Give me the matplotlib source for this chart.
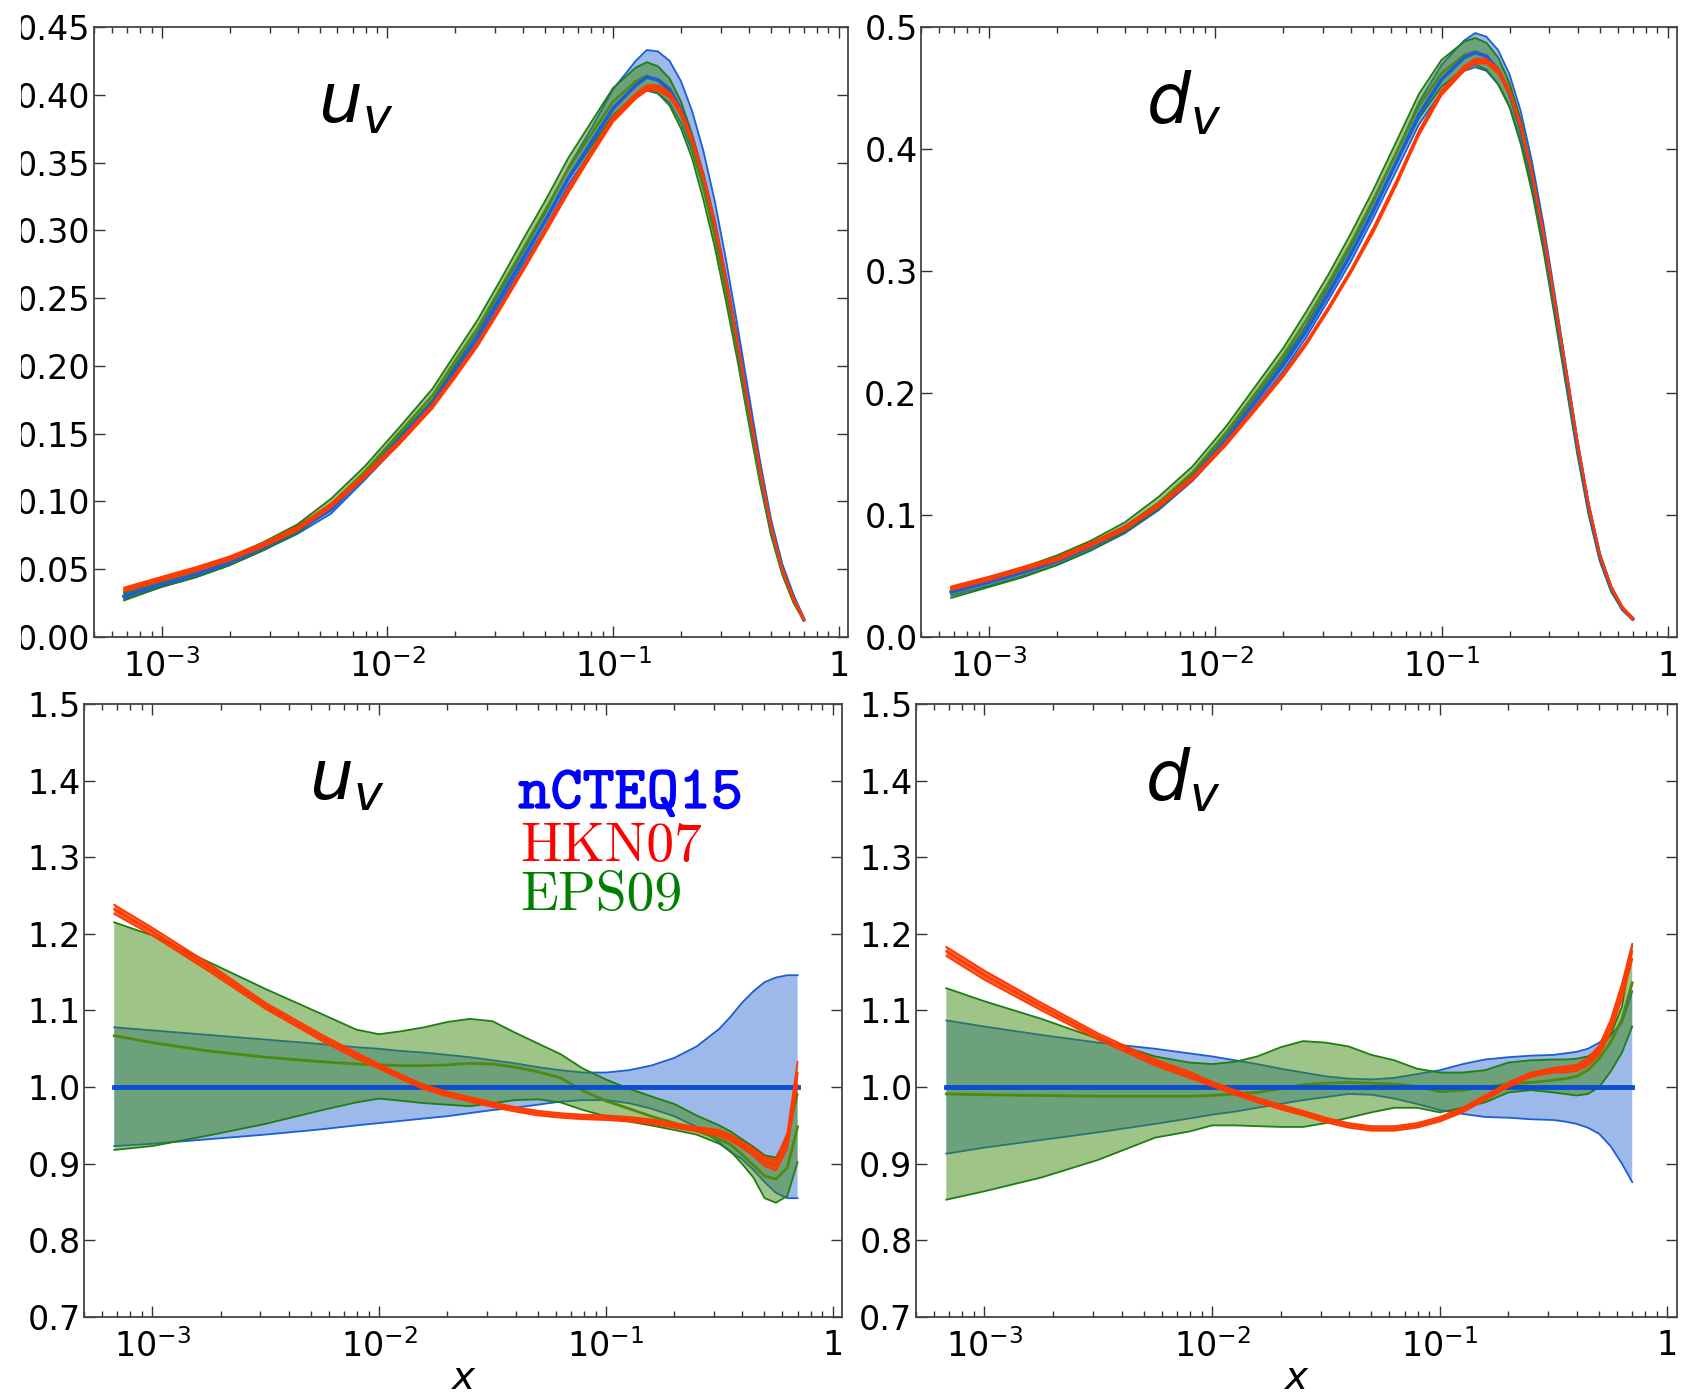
import numpy as np
import matplotlib
matplotlib.use('Agg')
import matplotlib.pyplot as plt
import matplotlib.ticker as ticker
import matplotlib.patheffects as pe
from matplotlib.patches import Rectangle

# ---- x grids ----
x_top = [6.8e-4, 1.0e-3, 1.41e-3, 2.0e-3, 2.82e-3, 3.98e-3, 5.62e-3, 7.94e-3, 0.0112, 0.0158, 0.0200,
         0.0251, 0.0316, 0.0398, 0.0501, 0.0631, 0.0794, 0.100, 0.126, 0.141, 0.158, 0.178, 0.200,
         0.224, 0.251, 0.282, 0.316, 0.355, 0.398, 0.447, 0.501, 0.562, 0.631, 0.700]
x_ratio = [6.8e-4, 1.0e-3, 1.78e-3, 3.16e-3, 5.62e-3, 7.94e-3, 0.0100, 0.0126, 0.0158, 0.0200,
           0.0251, 0.0316, 0.0398, 0.0501, 0.0631, 0.0794, 0.100, 0.126, 0.158, 0.200, 0.251,
           0.316, 0.355, 0.398, 0.447, 0.501, 0.562, 0.631, 0.700]

# ---- top: u_v distributions ----
uv_ncteq = [0.030, 0.039, 0.046, 0.055, 0.066, 0.079, 0.094, 0.119, 0.145, 0.172, 0.197, 0.221, 0.250, 0.279,
            0.307, 0.338, 0.364, 0.390, 0.407, 0.413, 0.411, 0.404, 0.389, 0.368, 0.340, 0.305, 0.264,
            0.219, 0.171, 0.124, 0.082, 0.051, 0.029, 0.013]
uv_ncteq_up = [0.002, 0.002, 0.002, 0.002, 0.002, 0.003, 0.003, 0.003, 0.003, 0.003, 0.004, 0.004, 0.005, 0.005,
               0.006, 0.008, 0.010, 0.014, 0.018, 0.020, 0.021, 0.021, 0.021, 0.020, 0.019, 0.017, 0.015,
               0.012, 0.010, 0.007, 0.005, 0.003, 0.002, 0.001]
uv_ncteq_dn = [0.002, 0.002, 0.002, 0.002, 0.002, 0.003, 0.003, 0.003, 0.003, 0.003, 0.004, 0.004, 0.004, 0.004,
               0.005, 0.005, 0.006, 0.007, 0.008, 0.010, 0.010, 0.010, 0.010, 0.010, 0.009, 0.008, 0.007,
               0.006, 0.005, 0.004, 0.003, 0.002, 0.002, 0.001]
uv_eps = [0.030, 0.040, 0.047, 0.056, 0.067, 0.080, 0.098, 0.122, 0.150, 0.178, 0.204, 0.228, 0.257, 0.286,
          0.315, 0.345, 0.370, 0.395, 0.410, 0.414, 0.411, 0.402, 0.385, 0.362, 0.332, 0.296, 0.255,
          0.211, 0.164, 0.118, 0.078, 0.048, 0.027, 0.013]
uv_eps_err = [0.003, 0.003, 0.003, 0.003, 0.003, 0.003, 0.004, 0.004, 0.004, 0.005, 0.005, 0.006, 0.006, 0.007,
              0.007, 0.008, 0.009, 0.010, 0.010, 0.010, 0.010, 0.010, 0.010, 0.009, 0.009, 0.008, 0.007,
              0.006, 0.005, 0.004, 0.003, 0.002, 0.002, 0.001]
uv_hkn = [0.035, 0.043, 0.050, 0.058, 0.068, 0.080, 0.097, 0.119, 0.143, 0.170, 0.193, 0.216, 0.243, 0.271,
          0.300, 0.329, 0.356, 0.382, 0.399, 0.405, 0.405, 0.400, 0.387, 0.367, 0.340, 0.305, 0.264,
          0.219, 0.171, 0.124, 0.082, 0.050, 0.028, 0.013]
uv_hkn_err = [0.0015, 0.0015, 0.0015, 0.0015, 0.0015, 0.0015, 0.0015, 0.0015, 0.0015, 0.0015, 0.0015, 0.0015,
              0.0015, 0.0015, 0.002, 0.002, 0.002, 0.002, 0.002, 0.002, 0.002, 0.002, 0.002, 0.002, 0.002,
              0.002, 0.002, 0.0015, 0.0015, 0.0015, 0.001, 0.001, 0.001, 0.001]

# ---- top: d_v distributions ----
dv_ncteq = [0.037, 0.045, 0.053, 0.062, 0.074, 0.088, 0.107, 0.131, 0.162, 0.198, 0.223, 0.250, 0.281, 0.314,
            0.350, 0.389, 0.428, 0.457, 0.475, 0.479, 0.476, 0.465, 0.446, 0.417, 0.378, 0.329, 0.274,
            0.216, 0.158, 0.106, 0.066, 0.040, 0.023, 0.015]
dv_ncteq_up = [0.003, 0.003, 0.003, 0.003, 0.003, 0.003, 0.003, 0.003, 0.004, 0.004, 0.005, 0.005, 0.006, 0.006,
               0.007, 0.008, 0.010, 0.012, 0.014, 0.016, 0.016, 0.016, 0.015, 0.014, 0.012, 0.010, 0.008,
               0.006, 0.005, 0.004, 0.003, 0.002, 0.001, 0.001]
dv_ncteq_dn = [0.003, 0.003, 0.003, 0.003, 0.003, 0.003, 0.003, 0.003, 0.004, 0.004, 0.005, 0.005, 0.005, 0.006,
               0.006, 0.007, 0.008, 0.010, 0.011, 0.012, 0.012, 0.012, 0.011, 0.010, 0.009, 0.008, 0.006,
               0.005, 0.004, 0.003, 0.002, 0.002, 0.001, 0.001]
dv_eps = [0.036, 0.045, 0.053, 0.063, 0.075, 0.090, 0.110, 0.135, 0.168, 0.205, 0.231, 0.259, 0.290, 0.323,
          0.359, 0.397, 0.435, 0.462, 0.477, 0.480, 0.476, 0.464, 0.444, 0.414, 0.374, 0.325, 0.270,
          0.212, 0.155, 0.104, 0.065, 0.039, 0.023, 0.015]
dv_eps_err = [0.004, 0.004, 0.004, 0.004, 0.004, 0.004, 0.005, 0.005, 0.005, 0.006, 0.006, 0.007, 0.007, 0.008,
              0.008, 0.009, 0.010, 0.011, 0.011, 0.011, 0.011, 0.011, 0.010, 0.010, 0.009, 0.008, 0.007,
              0.006, 0.005, 0.004, 0.003, 0.002, 0.001, 0.001]
dv_hkn = [0.040, 0.048, 0.056, 0.064, 0.076, 0.089, 0.108, 0.130, 0.159, 0.192, 0.215, 0.240, 0.269, 0.300,
          0.334, 0.372, 0.413, 0.446, 0.466, 0.472, 0.472, 0.464, 0.447, 0.419, 0.380, 0.331, 0.276,
          0.218, 0.160, 0.108, 0.067, 0.041, 0.024, 0.015]
dv_hkn_err = [0.0015, 0.0015, 0.0015, 0.0015, 0.0015, 0.0015, 0.0015, 0.0015, 0.0015, 0.0015, 0.0015, 0.0015,
              0.0015, 0.0015, 0.002, 0.002, 0.002, 0.002, 0.002, 0.002, 0.002, 0.002, 0.002, 0.002, 0.002,
              0.002, 0.002, 0.0015, 0.0015, 0.0015, 0.001, 0.001, 0.001, 0.001]

# ---- bottom: ratios to nCTEQ15 central, u_v ----
ruv_ncteq_hi = [1.078, 1.074, 1.068, 1.062, 1.056, 1.052, 1.050, 1.047, 1.045, 1.042, 1.039, 1.035, 1.031, 1.026,
                1.022, 1.019, 1.019, 1.022, 1.028, 1.038, 1.053, 1.076, 1.092, 1.110, 1.125, 1.137, 1.143,
                1.146, 1.146]
ruv_ncteq_lo = [0.923, 0.926, 0.932, 0.938, 0.945, 0.950, 0.953, 0.956, 0.959, 0.962, 0.966, 0.970, 0.973, 0.977,
                0.981, 0.983, 0.983, 0.979, 0.972, 0.962, 0.948, 0.928, 0.915, 0.906, 0.892, 0.876, 0.862,
                0.855, 0.855]
ruv_eps_hi = [1.215, 1.198, 1.163, 1.128, 1.095, 1.075, 1.069, 1.073, 1.078, 1.085, 1.089, 1.086, 1.071, 1.057,
              1.043, 1.024, 1.010, 0.998, 0.988, 0.978, 0.963, 0.950, 0.942, 0.932, 0.922, 0.911, 0.908,
              0.935, 0.991]
ruv_eps_mid = [1.067, 1.058, 1.047, 1.039, 1.033, 1.030, 1.029, 1.028, 1.028, 1.029, 1.031, 1.030, 1.026, 1.020,
               1.012, 0.995, 0.982, 0.972, 0.962, 0.953, 0.943, 0.932, 0.925, 0.912, 0.898, 0.884, 0.880,
               0.895, 0.948]
ruv_eps_lo = [0.918, 0.923, 0.937, 0.952, 0.970, 0.980, 0.985, 0.982, 0.979, 0.977, 0.975, 0.979, 0.983, 0.984,
              0.980, 0.970, 0.962, 0.955, 0.950, 0.944, 0.938, 0.926, 0.916, 0.900, 0.882, 0.855, 0.849,
              0.858, 0.902]
ruv_hkn = [1.232, 1.203, 1.156, 1.106, 1.064, 1.041, 1.027, 1.013, 1.000, 0.991, 0.984, 0.977, 0.971, 0.966,
           0.963, 0.961, 0.960, 0.958, 0.955, 0.950, 0.945, 0.940, 0.934, 0.925, 0.915, 0.903, 0.898,
           0.930, 1.018]
ruv_hkn_err = [0.006, 0.005, 0.005, 0.004, 0.004, 0.004, 0.003, 0.003, 0.003, 0.003, 0.003, 0.003, 0.003, 0.003,
               0.003, 0.003, 0.003, 0.003, 0.003, 0.003, 0.003, 0.004, 0.004, 0.004, 0.005, 0.006, 0.007,
               0.010, 0.015]

# ---- bottom: ratios to nCTEQ15 central, d_v ----
rdv_ncteq_hi = [1.087, 1.079, 1.068, 1.058, 1.050, 1.044, 1.040, 1.035, 1.030, 1.024, 1.019, 1.014, 1.011, 1.010,
                1.012, 1.017, 1.022, 1.030, 1.036, 1.039, 1.041, 1.042, 1.044, 1.046, 1.050, 1.058, 1.068,
                1.084, 1.125]
rdv_ncteq_lo = [0.913, 0.921, 0.931, 0.941, 0.952, 0.959, 0.964, 0.968, 0.973, 0.978, 0.983, 0.987, 0.991, 0.990,
                0.985, 0.978, 0.970, 0.965, 0.961, 0.960, 0.958, 0.957, 0.955, 0.952, 0.947, 0.939, 0.923,
                0.900, 0.876]
rdv_eps_hi = [1.129, 1.112, 1.089, 1.063, 1.040, 1.032, 1.030, 1.033, 1.040, 1.052, 1.060, 1.058, 1.053, 1.042,
              1.035, 1.024, 1.019, 1.019, 1.022, 1.032, 1.035, 1.036, 1.036, 1.037, 1.040, 1.050, 1.068,
              1.105, 1.185]
rdv_eps_mid = [0.991, 0.990, 0.989, 0.988, 0.988, 0.988, 0.989, 0.991, 0.993, 0.998, 1.003, 1.005, 1.006, 1.005,
               1.004, 1.001, 0.994, 0.996, 1.000, 1.004, 1.006, 1.009, 1.011, 1.014, 1.022, 1.037, 1.058,
               1.089, 1.136]
rdv_eps_lo = [0.853, 0.864, 0.882, 0.905, 0.934, 0.942, 0.950, 0.950, 0.949, 0.948, 0.948, 0.953, 0.960, 0.967,
              0.973, 0.973, 0.967, 0.973, 0.980, 0.993, 0.996, 0.993, 0.991, 0.989, 0.991, 1.000, 1.020,
              1.045, 1.079]
rdv_hkn = [1.177, 1.146, 1.105, 1.066, 1.032, 1.016, 1.004, 0.993, 0.983, 0.974, 0.966, 0.957, 0.950, 0.946,
           0.946, 0.950, 0.958, 0.970, 0.986, 1.003, 1.016, 1.022, 1.023, 1.025, 1.033, 1.048, 1.079,
           1.125, 1.177]
rdv_hkn_err = [0.006, 0.006, 0.005, 0.004, 0.004, 0.004, 0.003, 0.003, 0.003, 0.003, 0.003, 0.003, 0.003, 0.003,
               0.003, 0.003, 0.003, 0.003, 0.003, 0.003, 0.003, 0.003, 0.004, 0.004, 0.005, 0.006, 0.008,
               0.010, 0.010]

labels = ['nCTEQ15', 'HKN07', 'EPS09']

BLUE = '#1a5fd6'
BLUE_FILL = '#2565d2'
GREEN_EDGE = '#1f7d14'
GREEN_FILL = '#3f8a10'
GREEN_MID = '#4f8a0c'
RED = '#ff3a00'


def draw_band(ax, x, lo, hi, fill, edge, alpha, z, mid=None, midcolor=None, midlw=2.0):
    ax.fill_between(x, lo, hi, facecolor=fill, alpha=alpha, edgecolor='none', zorder=z)
    ax.plot(x, lo, color=edge, lw=1.3, zorder=z + 0.1)
    ax.plot(x, hi, color=edge, lw=1.3, zorder=z + 0.1)
    if mid is not None:
        ax.plot(x, mid, color=midcolor, lw=midlw, zorder=z + 0.2)


def xfmt(v, pos):
    e = int(round(np.log10(v)))
    if e == 0:
        return '1'
    return r'$10^{%d}$' % e


def style(ax, ylim, yticks, yfmt):
    ax.set_xscale('log')
    ax.set_xlim(5e-4, 1.1)
    ax.set_ylim(*ylim)
    ax.set_yticks(yticks)
    ax.yaxis.set_major_formatter(ticker.FormatStrFormatter(yfmt))
    ax.xaxis.set_major_locator(ticker.FixedLocator([1e-3, 1e-2, 1e-1, 1.0]))
    ax.xaxis.set_minor_locator(ticker.LogLocator(base=10, subs=np.arange(2, 10), numticks=20))
    ax.xaxis.set_major_formatter(ticker.FuncFormatter(xfmt))
    ax.xaxis.set_minor_formatter(ticker.NullFormatter())
    ax.tick_params(which='both', direction='in', top=True, right=True, labelsize=24, width=1.0, color='#333333')
    ax.tick_params(which='major', length=8)
    ax.tick_params(axis='x', which='major', pad=9)
    ax.tick_params(axis='y', which='major', pad=2.5)
    ax.tick_params(which='minor', length=4)
    for s in ax.spines.values():
        s.set_linewidth(1.3)
        s.set_color('#444444')


fig = plt.figure(figsize=(16.93, 13.97), dpi=100)
ax_tl = fig.add_axes([0.0555, 0.544, 0.4454, 0.4367])
ax_tr = fig.add_axes([0.544, 0.544, 0.4466, 0.4367])
ax_bl = fig.add_axes([0.0496, 0.0573, 0.4478, 0.4388])
ax_br = fig.add_axes([0.541, 0.0573, 0.4495, 0.4388])

# top panels
for ax, c, up, dn, eps, eps_err, hkn, hkn_err in [
        (ax_tl, uv_ncteq, uv_ncteq_up, uv_ncteq_dn, uv_eps, uv_eps_err, uv_hkn, uv_hkn_err),
        (ax_tr, dv_ncteq, dv_ncteq_up, dv_ncteq_dn, dv_eps, dv_eps_err, dv_hkn, dv_hkn_err)]:
    c, up, dn = np.array(c), np.array(up), np.array(dn)
    eps, eps_err = np.array(eps), np.array(eps_err)
    hkn, hkn_err = np.array(hkn), np.array(hkn_err)
    draw_band(ax, x_top, c - dn, c + up, BLUE_FILL, BLUE, 0.45, 2)
    draw_band(ax, x_top, eps - eps_err, eps + eps_err, GREEN_FILL, GREEN_EDGE, 0.5, 3,
              mid=eps, midcolor=GREEN_MID, midlw=1.8)
    ax.plot(x_top, c, color=BLUE, lw=2.6, zorder=3.5)
    draw_band(ax, x_top, hkn - hkn_err, hkn + hkn_err, RED, RED, 0.8, 4, mid=hkn, midcolor=RED, midlw=1.5)

style(ax_tl, (0, 0.45), np.arange(0, 0.451, 0.05), '%.2f')
style(ax_tr, (0, 0.5), np.arange(0, 0.51, 0.1), '%.1f')

# bottom panels (ratios)
for ax, bhi, blo, ehi, emid, elo, h, herr in [
        (ax_bl, ruv_ncteq_hi, ruv_ncteq_lo, ruv_eps_hi, ruv_eps_mid, ruv_eps_lo, ruv_hkn, ruv_hkn_err),
        (ax_br, rdv_ncteq_hi, rdv_ncteq_lo, rdv_eps_hi, rdv_eps_mid, rdv_eps_lo, rdv_hkn, rdv_hkn_err)]:
    h, herr = np.array(h), np.array(herr)
    draw_band(ax, x_ratio, blo, bhi, BLUE_FILL, BLUE, 0.45, 2)
    draw_band(ax, x_ratio, elo, ehi, GREEN_FILL, GREEN_EDGE, 0.5, 3, mid=emid, midcolor=GREEN_MID, midlw=2.0)
    ax.plot([x_ratio[0], x_ratio[-1]], [1.0, 1.0], color='#0a4fd0', lw=3.5, zorder=3.5)
    draw_band(ax, x_ratio, h - herr, h + herr, RED, RED, 0.8, 4, mid=h, midcolor=RED, midlw=1.5)
    style(ax, (0.7, 1.5), np.arange(0.7, 1.51, 0.1), '%.1f')
    ax.set_xlabel(r'$x$', fontsize=28, labelpad=-4)

# panel labels
ax_tl.text(0.347, 0.875, r'$u_v$', transform=ax_tl.transAxes, fontsize=50, ha='center', va='center')
ax_tr.text(0.348, 0.875, r'$d_v$', transform=ax_tr.transAxes, fontsize=50, ha='center', va='center')
ax_bl.text(0.347, 0.876, r'$u_v$', transform=ax_bl.transAxes, fontsize=50, ha='center', va='center')
ax_br.text(0.350, 0.876, r'$d_v$', transform=ax_br.transAxes, fontsize=50, ha='center', va='center')

# legend as coloured text
ax_bl.text(0.573, 0.849, labels[0], transform=ax_bl.transAxes, color='blue', fontsize=44,
           family='cmtt10', va='center', ha='left',
           path_effects=[pe.withStroke(linewidth=0.9, foreground='blue')])
ax_bl.text(0.575, 0.767, labels[1], transform=ax_bl.transAxes, color='red', fontsize=40,
           family='cmr10', va='center', ha='left')
ax_bl.text(0.575, 0.686, labels[2], transform=ax_bl.transAxes, color='green', fontsize=40,
           family='cmr10', va='center', ha='left')

# the source image is cut along its left edge in the upper half
fig.patches.append(Rectangle((0, 0.5), 21 / 1693, 0.5, transform=fig.transFigure,
                             facecolor='white', edgecolor='none', zorder=10))

fig.savefig('out.png', dpi=100)
